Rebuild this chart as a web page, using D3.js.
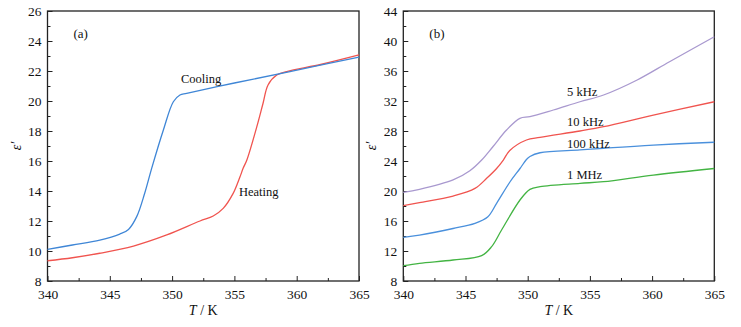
<!DOCTYPE html>
<html>
<head>
    <meta charset="UTF-8" />
    <script src="https://d3js.org/d3.v7.min.js"></script>
    <style>
        body { margin: 0; background: white; }
        text { font-family: "Liberation Serif", "DejaVu Serif", serif; }
    </style>
</head>
<body>
<svg id="chart" width="741" height="327"></svg>
<script>
    // panel (a) data
    const coolT = [340, 342, 344.2, 345.8, 346.5, 347.16, 347.8, 348.36, 349.3, 350.1, 350.63, 351.17, 355, 359.46, 365];
    const coolE = [10.11, 10.4, 10.73, 11.13, 11.44, 12.29, 13.85, 15.51, 18.07, 19.95, 20.4, 20.51, 21.2, 21.96, 22.93];
    const heatT = [340, 342, 344.2, 346.9, 349.57, 352.24, 353.3, 354.1, 354.9, 355.45, 355.7, 356.0, 356.8, 357.3, 357.7, 358.4, 359.2, 362, 365];
    const heatE = [9.35, 9.55, 9.85, 10.33, 11.07, 12.0, 12.33, 12.84, 13.84, 14.95, 15.51, 16.07, 18.29, 19.85, 21.07, 21.73, 21.96, 22.45, 23.07];

    // panel (b) data
    const t5k   = [340, 341.3, 344.0, 345.35, 346.3, 347.2, 348.3, 349.37, 350.18, 352.06, 354.2, 356.1, 358.8, 361.4, 365];
    const e5k   = [19.83, 20.22, 21.47, 22.7, 24.13, 25.9, 28.13, 29.69, 29.91, 30.8, 31.9, 32.8, 34.8, 37.24, 40.57];
    const t10k  = [340, 341.3, 344.0, 345.76, 346.7, 347.5, 348.04, 348.56, 349.9, 350.99, 354.2, 356.1, 360.1, 365];
    const e10k  = [18.04, 18.44, 19.33, 20.35, 21.69, 23.0, 24.13, 25.4, 26.8, 27.15, 28.0, 28.57, 30.13, 31.9];
    const t100k = [340, 341.3, 344.0, 345.76, 346.8, 347.5, 348.57, 349.38, 349.9, 350.18, 350.99, 354.2, 356.1, 360.1, 365];
    const e100k = [13.83, 14.13, 15.0, 15.69, 16.58, 18.36, 21.2, 23.0, 24.2, 24.6, 25.1, 25.47, 25.7, 26.13, 26.5];
    const t1M   = [340, 341.3, 344.0, 346.3, 347.1, 347.9, 349.38, 350.18, 351.0, 354.2, 356.1, 360.1, 365];
    const e1M   = [10.04, 10.36, 10.8, 11.38, 12.58, 14.8, 18.8, 20.22, 20.58, 21.02, 21.24, 22.13, 23.0];

    const seriesB = [
        {name: '5 kHz',   t: t5k,   values: e5k,   color: '#a999cf', lx: 567, ly: 92},
        {name: '10 kHz',  t: t10k,  values: e10k,  color: '#f0544f', lx: 567, ly: 122},
        {name: '100 kHz', t: t100k, values: e100k, color: '#4a90dc', lx: 567, ly: 144},
        {name: '1 MHz',   t: t1M,   values: e1M,   color: '#43b443', lx: 567, ly: 175}
    ];

    const xTicks = [340, 345, 350, 355, 360, 365];
    const yTicksA = [8, 10, 12, 14, 16, 18, 20, 22, 24, 26];
    const yTicksB = [8, 12, 16, 20, 24, 28, 32, 36, 40, 44];

    const svg = d3.select('svg#chart');
    const plotTop = 11, plotBottom = 281;

    function drawPanel(left, right, yDomain, yTicks, yMinorStep, tag) {
        const g = svg.append('g');
        const x = d3.scaleLinear().domain([340, 365]).range([left, right]);
        const y = d3.scaleLinear().domain(yDomain).range([plotBottom, plotTop]);

        // frame
        g.append('rect')
            .attr('x', left).attr('y', plotTop)
            .attr('width', right - left).attr('height', plotBottom - plotTop)
            .attr('fill', 'none').attr('stroke', '#222').attr('stroke-width', 1.3);

        // x ticks (inward)
        const xAxis = d3.axisBottom(x).tickValues(xTicks).tickSize(-5).tickPadding(8).tickFormat(d3.format('d'));
        g.append('g').attr('transform', `translate(0, ${plotBottom})`).call(xAxis);
        const xMinor = d3.range(342.5, 365, 5);
        g.append('g').attr('transform', `translate(0, ${plotBottom})`)
            .call(d3.axisBottom(x).tickValues(xMinor).tickSize(-3).tickFormat(''));

        g.append('g').attr('transform', `translate(${left}, 0)`)
            .call(d3.axisLeft(y).tickValues(yTicks).tickSize(-5).tickPadding(6));
        const yMinor = d3.range(yDomain[0] + yMinorStep, yDomain[1], yMinorStep * 2);
        g.append('g').attr('transform', `translate(${left}, 0)`)
            .call(d3.axisLeft(y).tickValues(yMinor).tickSize(-3).tickFormat(''));

        g.selectAll('.domain').remove();
        g.selectAll('.tick line').attr('stroke', '#222').attr('stroke-width', 1);
        g.selectAll('.tick text').attr('font-size', 13.5).attr('fill', '#111')
            .style('font-family', '"Liberation Serif", serif');

        // axis titles
        const xt = g.append('text')
            .attr('x', (left + right) / 2).attr('y', 315)
            .attr('text-anchor', 'middle').attr('font-size', 14).attr('fill', '#111');
        xt.append('tspan').attr('font-style', 'italic').text('T');
        xt.append('tspan').text(' / K');

        g.append('text')
            .attr('transform', `translate(${left - 27}, ${(plotTop + plotBottom) / 2}) rotate(-90)`)
            .attr('text-anchor', 'middle').attr('font-size', 14).attr('font-style', 'italic')
            .attr('fill', '#111').text('ε′');

        g.append('text')
            .attr('x', left + 26).attr('y', 38)
            .attr('font-size', 13).attr('fill', '#111').text(tag);

        return {g, x, y};
    }

    const curve = d3.curveCatmullRom.alpha(0.5);

    // panel (a)
    const pa = drawPanel(47.5, 359, [8, 26], yTicksA, 1, '(a)');
    const lineA = d3.line().x(d => pa.x(d[0])).y(d => pa.y(d[1])).curve(curve);
    pa.g.append('path').datum(heatT.map((t, i) => [t, heatE[i]]))
        .attr('d', lineA).attr('fill', 'none').attr('stroke', '#f0544f').attr('stroke-width', 1.3);
    pa.g.append('path').datum(coolT.map((t, i) => [t, coolE[i]]))
        .attr('d', lineA).attr('fill', 'none').attr('stroke', '#3f86d6').attr('stroke-width', 1.3);
    pa.g.append('text').attr('x', 181).attr('y', 83).attr('font-size', 12.5).attr('fill', '#111').text('Cooling');
    pa.g.append('text').attr('x', 239).attr('y', 196).attr('font-size', 12.5).attr('fill', '#111').text('Heating');

    // panel (b)
    const pb = drawPanel(403.3, 714.3, [8, 44], yTicksB, 2, '(b)');
    const lineB = d3.line().x(d => pb.x(d[0])).y(d => pb.y(d[1])).curve(curve);
    seriesB.forEach(s => {
        pb.g.append('path').datum(s.t.map((t, i) => [t, s.values[i]]))
            .attr('d', lineB).attr('fill', 'none').attr('stroke', s.color).attr('stroke-width', 1.3);
        pb.g.append('text').attr('x', s.lx).attr('y', s.ly + 4).attr('font-size', 12.5)
            .attr('fill', '#111').text(s.name);
    });
</script>
</body>
</html>
